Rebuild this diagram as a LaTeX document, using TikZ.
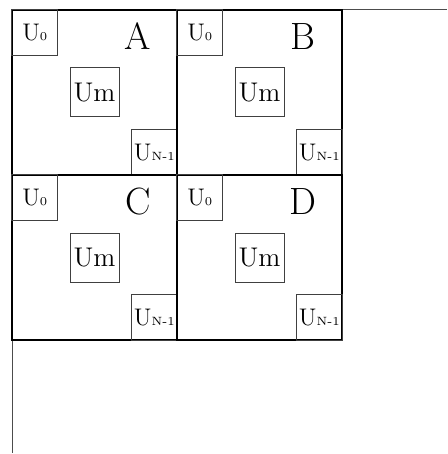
\documentclass[tikz,border=0pt]{standalone}
\usepackage{tikz}
\tikzset{x=.5pt,y=-.5pt}
\usetikzlibrary{positioning, calc}
\newcommand{\usub}[1]{U{\fontsize{6}{6}\selectfont #1}}

\begin{document}
\begin{tikzpicture}[
    quad/.style={draw, line width=.75pt, minimum size=82.5pt, inner sep=0pt},
    ubox/.style={draw=black!75, line width=.5pt, minimum size=23pt, inner sep=0pt,
      font=\fontsize{12}{12}\selectfont},
    mbox/.style={ubox, minimum size=24.5pt, font=\fontsize{13.5}{14}\selectfont},
    letter/.style={font=\fontsize{19}{20}\selectfont},
    frame/.style={draw=black!70, line width=.5pt}]
  \useasboundingbox (0,0) rectangle (447,454);
  % outer lines
  \coordinate (top-end) at (447,10);
  \coordinate (left-end) at (12,453);
  \coordinate (origin) at (12,10);
  \draw[frame] (origin) -- (top-end);
  \draw[frame] (origin) -- (left-end);
  % four blocks
  \foreach \q/\cx/\cy in {A/94.5/92.5, B/259.5/92.5, C/94.5/257.5, D/259.5/257.5}{
    \node[quad] (\q) at (\cx,\cy) {};
    \node[ubox, anchor=north west] (\q-first) at (\q.north west) {\usub{0}};
    \node[mbox] (\q-mid) at (\q.center) {Um};
    \node[ubox, anchor=south east] (\q-last) at (\q.south east) {\usub{N-1}};
    \node[letter] (\q-name) at ([shift={(-40,27)}]\q.north east) {\q};
  }
\end{tikzpicture}
\end{document}
